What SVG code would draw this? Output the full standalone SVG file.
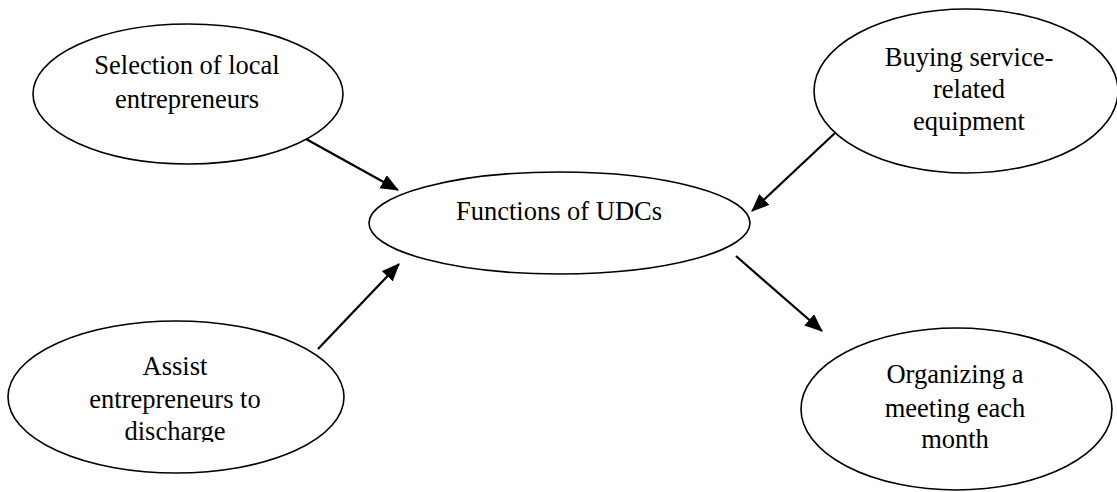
<svg xmlns="http://www.w3.org/2000/svg" width="1117" height="492" viewBox="0 0 1117 492">
<style>
.n{fill:#fff;stroke:#000;stroke-width:1.6}
.t{font-family:"Liberation Serif","Times New Roman",serif;font-size:26.5px;fill:#000;text-anchor:middle}
.c{stroke:#000;stroke-width:2.2;fill:none;marker-end:url(#ah)}
</style>
<defs>
<marker id="ah" markerUnits="userSpaceOnUse" markerWidth="18" markerHeight="16" refX="17" refY="7.5" orient="auto">
<path d="M0,0 L18,7.5 L0,15 z" fill="#000"/>
</marker>
<clipPath id="clipAssist"><rect x="0" y="300" width="400" height="142"/></clipPath>
</defs>
<rect width="1117" height="492" fill="#fff"/>
<g id="node-selection">
<ellipse class="n" cx="188" cy="94" rx="155" ry="70"/>
<text class="t" x="187" y="74">Selection of local</text>
<text class="t" x="187" y="108">entrepreneurs</text>
</g>
<g id="node-buying">
<ellipse class="n" cx="966" cy="91" rx="152" ry="82"/>
<text class="t" x="969" y="66">Buying service-</text>
<text class="t" x="969" y="98">related</text>
<text class="t" x="969" y="130">equipment</text>
</g>
<g id="node-functions">
<ellipse class="n" cx="559.5" cy="223" rx="190.5" ry="51"/>
<text class="t" x="559" y="220">Functions of UDCs</text>
</g>
<g id="node-assist">
<ellipse class="n" cx="176" cy="397" rx="168" ry="76"/>
<g clip-path="url(#clipAssist)">
<text class="t" x="175" y="375">Assist</text>
<text class="t" x="175" y="408">entrepreneurs to</text>
<text class="t" x="175" y="440">discharge</text>
</g>
</g>
<g id="node-organizing">
<ellipse class="n" cx="956.5" cy="409" rx="155.5" ry="81"/>
<text class="t" x="955" y="383">Organizing a</text>
<text class="t" x="955" y="417">meeting each</text>
<text class="t" x="955" y="448">month</text>
</g>
<g id="connectors">
<line class="c" x1="306" y1="139" x2="398" y2="190"/>
<line class="c" x1="318" y1="349" x2="399" y2="264"/>
<line class="c" x1="835" y1="133" x2="752" y2="211"/>
<line class="c" x1="736" y1="256" x2="822" y2="331"/>
</g>
</svg>
